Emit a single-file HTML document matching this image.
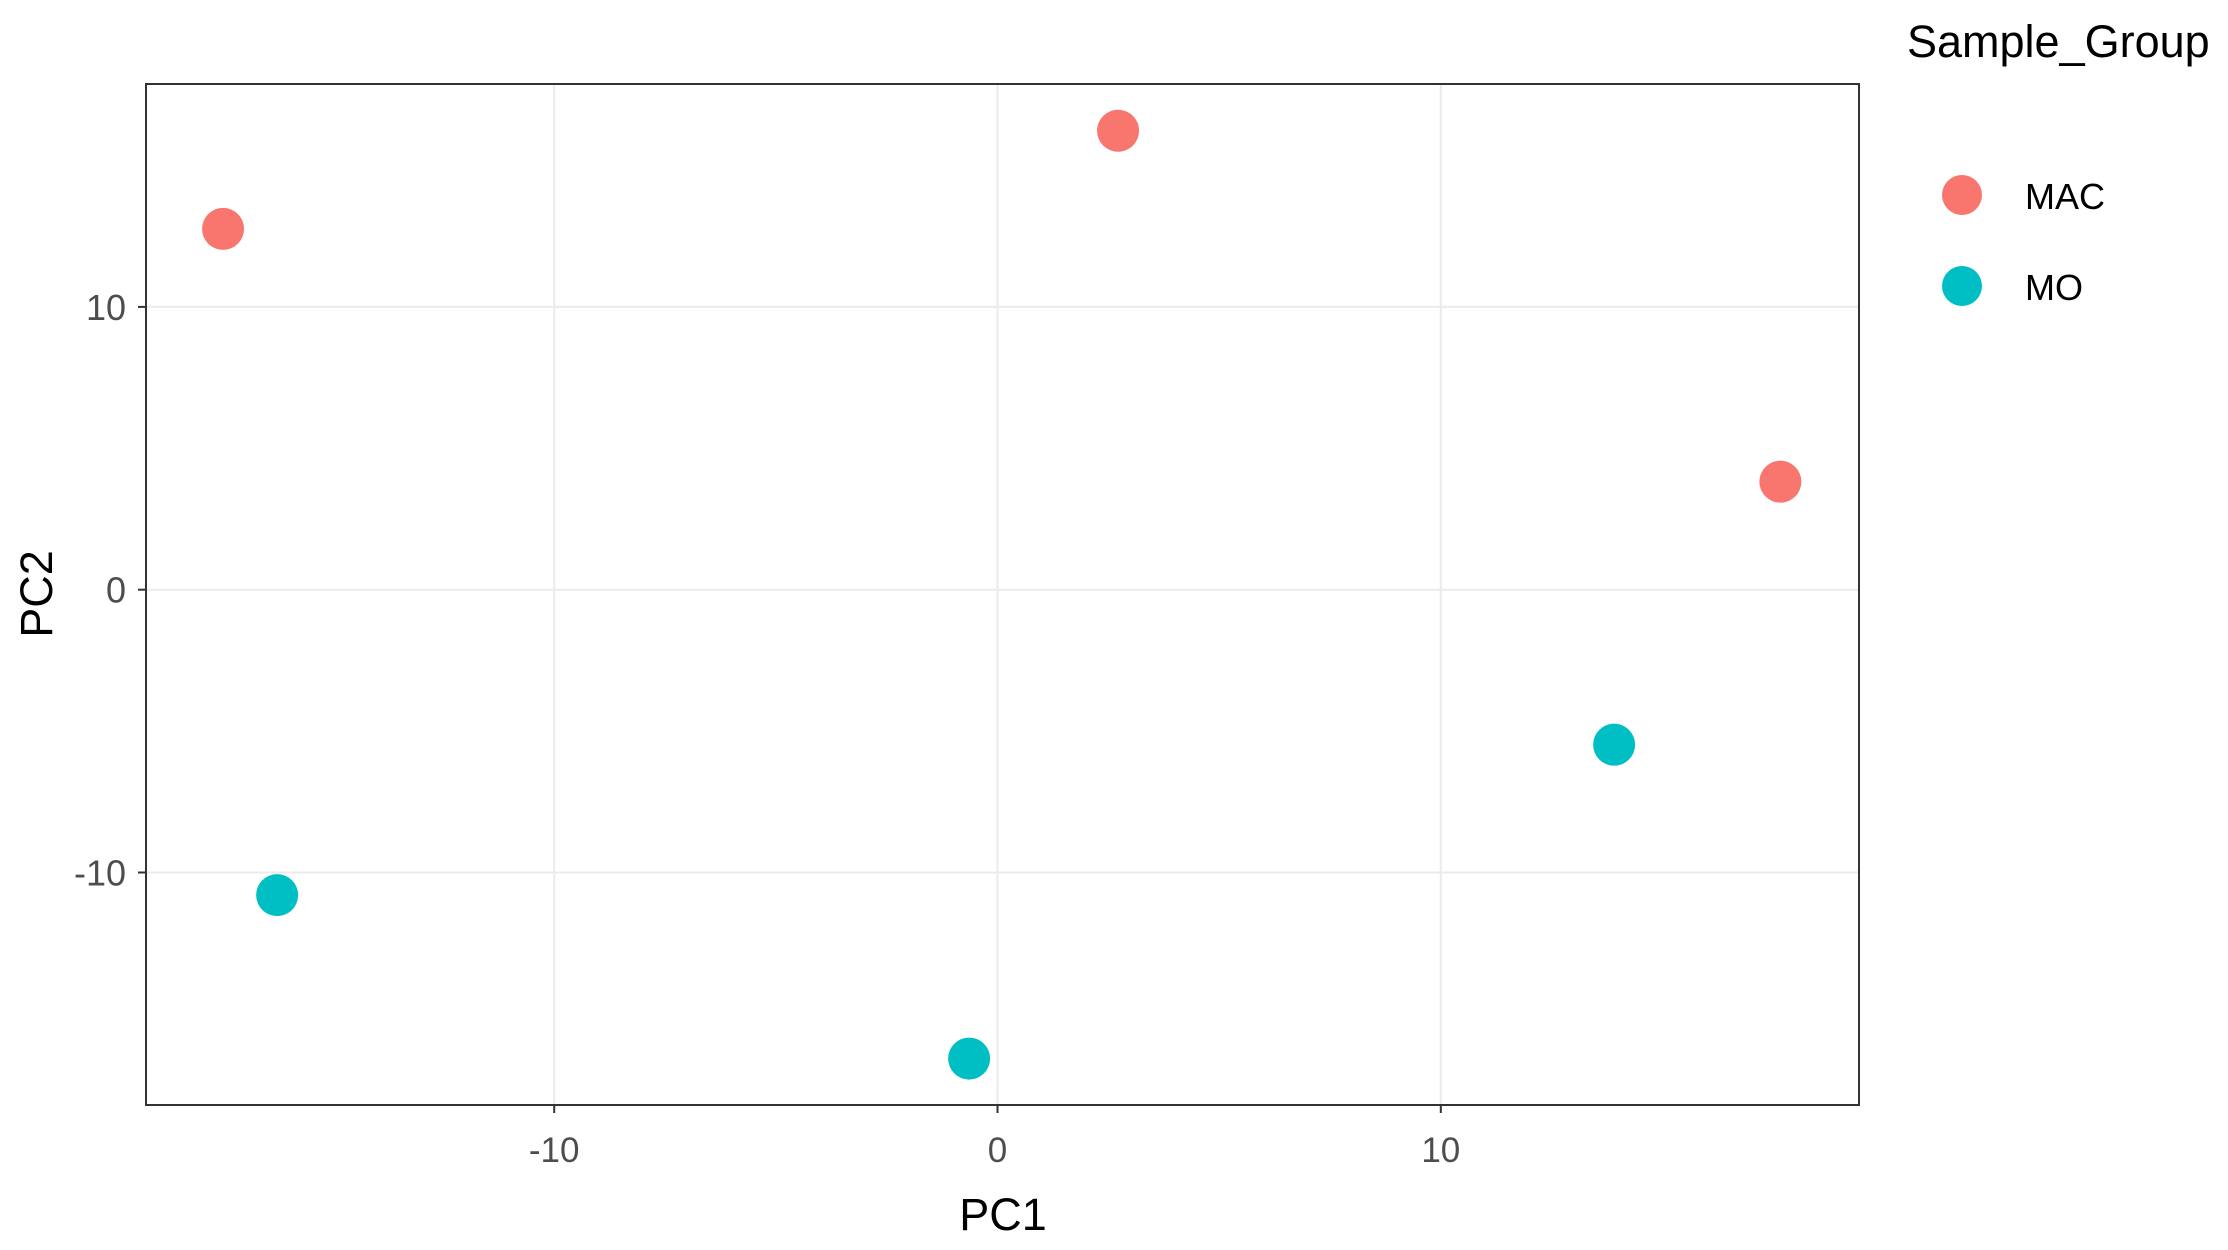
<!DOCTYPE html>
<html><head><meta charset="utf-8"><style>
html,body{margin:0;padding:0;background:#fff}
svg{display:block;font-family:"Liberation Sans",sans-serif}
</style></head><body>
<svg id="chart" width="2228" height="1250" viewBox="0 0 2228 1250">
<rect width="2228" height="1250" fill="#fff"/>
<g id="grid"></g>
<g id="axes"></g>
<g id="points"></g>
<rect x="146" y="84" width="1713" height="1021" fill="none" stroke="#333" stroke-width="2"/>
<text x="1003" y="1230" font-size="45" text-anchor="middle" fill="#000">PC1</text>
<text transform="translate(52,594) rotate(-90)" font-size="45" text-anchor="middle" fill="#000">PC2</text>
<g>
<text x="1907" y="57" font-size="45" fill="#000">Sample_Group</text>
<g><circle cx="1962" cy="195" r="20" fill="#F8766D"/><text x="2025" y="209" font-size="36" fill="#000">MAC</text></g>
<g><circle cx="1962" cy="286" r="20" fill="#00BFC4"/><text x="2025" y="300" font-size="36" fill="#000">MO</text></g>
</g>
</svg>
<script>
const pc1 = [-17.47, 2.72, 17.66, -16.25, -0.64, 13.91];
const pc2 = [12.76, 16.23, 3.82, -10.8, -16.58, -5.48];
const groups = ["MAC","MAC","MAC","MO","MO","MO"];
const xTicks = [-10, 0, 10];
const yTicks = [-10, 0, 10];
const colors = {MAC:"#F8766D", MO:"#00BFC4"};
const L=146,R=1859,T=84,B=1105;
function xs(v){return 997.5+v*44.33;}
function ys(v){return 589.7-v*28.28;}
const NS="http://www.w3.org/2000/svg";
const grid=document.getElementById('grid'), axes=document.getElementById('axes'), pts=document.getElementById('points');
function mk(tag,attrs,parent){const e=document.createElementNS(NS,tag);for(const k in attrs)e.setAttribute(k,attrs[k]);parent.appendChild(e);return e;}
xTicks.forEach(t=>{
  const x=xs(t);
  const g=mk('line',{x1:x,x2:x,y1:T,y2:B,stroke:'#EBEBEB','stroke-width':2},grid);
  
  
  const tk=mk('line',{x1:x,x2:x,y1:B,y2:B+8,stroke:'#333','stroke-width':2},axes);
  
  
  const tx=mk('text',{x:x,y:B+57,'font-size':35,'text-anchor':'middle',fill:'#4D4D4D'},axes);
  tx.textContent=t;
  
  
});
yTicks.forEach(t=>{
  const y=ys(t);
  const g=mk('line',{x1:L,x2:R,y1:y,y2:y,stroke:'#EBEBEB','stroke-width':2},grid);
  
  
  const tk=mk('line',{x1:L-8,x2:L,y1:y,y2:y,stroke:'#333','stroke-width':2},axes);
  
  
  const tx=mk('text',{x:L-20,y:y+13,'font-size':36,'text-anchor':'end',fill:'#4D4D4D'},axes);
  tx.textContent=t;
  
  
});
pc1.forEach((v,i)=>{
  const c=mk('circle',{cx:xs(v),cy:ys(pc2[i]),r:21,fill:colors[groups[i]]},pts);
  
  
});
</script>
</body></html>
